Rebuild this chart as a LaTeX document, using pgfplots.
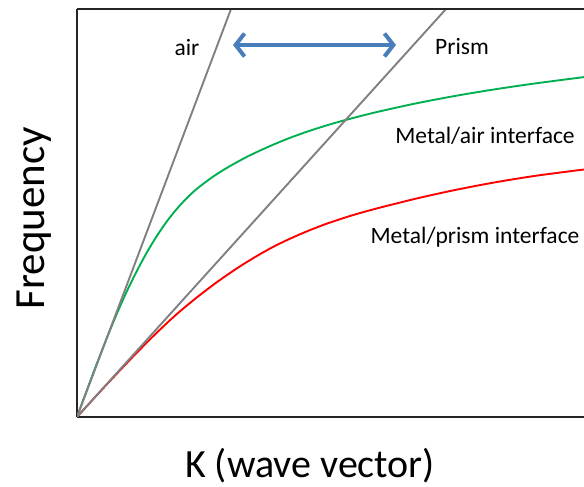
\documentclass[border=0pt]{standalone}
\usepackage{fontspec}
\setmainfont{Carlito}
\usepackage{pgfplots}
\pgfplotsset{compat=1.18}
\usetikzlibrary{arrows.meta}
\definecolor{sppgreen}{RGB}{0,176,80}
\definecolor{sppred}{RGB}{255,0,0}
\definecolor{lightgray2}{RGB}{128,128,128}
\definecolor{arrowblue}{RGB}{74,126,187}
\begin{document}
\begin{tikzpicture}[x=1pt,y=1pt]
\useasboundingbox (0,0) rectangle (584,487);
\begin{axis}[
  at={(77pt,70pt)}, anchor=south west,
  width=507pt, height=408pt, scale only axis,
  xmin=0, xmax=507, ymin=0, ymax=408,
  axis x line*=bottom, axis y line*=left,
  axis line style={line width=1.9pt, black!85},
  xtick=\empty, ytick=\empty,
  clip=true,
]
\addplot[sppgreen, line width=1.9pt, smooth] coordinates {
(0,0) (10,27.2) (20,53.8) (30,79.4) (40,103.6) (50,126) (60,146.3) (70,164.8)
(80,181.3) (90,195.8) (100,208.3) (110,219) (120,228.3) (135,239.6) (150,249.2)
(170,260.2) (190,269.6) (210,278) (230,285.3) (250,291.7) (270,297.4) (300,305)
(340,313.8) (380,321.4) (420,328) (460,333.8) (507,339.9)
};
\addplot[sppred, line width=1.9pt, smooth] coordinates {
(0,0) (20,22) (40,43.5) (60,64.5) (80,84.5) (100,103.1) (120,119.7) (140,134.9)
(160,148.7) (180,161.1) (200,172.1) (225,183.6) (250,193.4) (275,201.6)
(300,208.6) (340,218.6) (380,227.4) (420,235) (460,241.4) (507,247.5)
};
\addplot[lightgray2, line width=1.9pt] coordinates {(0,0) (154,408)};
\addplot[lightgray2, line width=1.9pt] coordinates {(0,0) (369,408)};
\draw[arrowblue, line width=4pt, {Straight Barb[length=9pt,width=23pt]}-{Straight Barb[length=9pt,width=23pt]}]
  (axis cs:156,372) -- (axis cs:319,372);
\node[font=\fontsize{23.5}{28}\selectfont] at (axis cs:110,369) {air};
\node[font=\fontsize{23.5}{28}\selectfont] at (axis cs:385,370) {Prism};
\node[font=\fontsize{23.5}{28}\selectfont] at (axis cs:408,281) {Metal/air interface};
\node[font=\fontsize{23.5}{28}\selectfont] at (axis cs:398,180) {Metal/prism interface};
\end{axis}
\draw[line width=1.9pt, black!85] (77,478) -- (584,478);
\node[font=\fontsize{40}{46}\selectfont] at (310,21) {K (wave vector)};
\node[font=\fontsize{43}{50}\selectfont, rotate=90] at (34,269) {Frequency};
\end{tikzpicture}
\end{document}
